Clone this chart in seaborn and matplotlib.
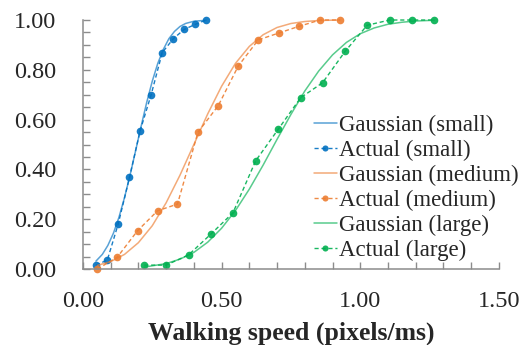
import numpy as np
import pandas as pd
import seaborn as sns
import matplotlib.pyplot as plt
from matplotlib.ticker import MultipleLocator, FormatStrFormatter

# measured points (walking speed vs cumulative share)
small_x = [0.047, 0.088, 0.127, 0.168, 0.206, 0.246, 0.286, 0.326, 0.365, 0.404, 0.444]
small_actual = [0.016, 0.036, 0.18, 0.368, 0.554, 0.70, 0.869, 0.925, 0.962, 0.982, 1.0]
medium_x = [0.052, 0.124, 0.197, 0.269, 0.341, 0.415, 0.488, 0.56, 0.632, 0.707, 0.78, 0.855, 0.927]
medium_actual = [0.0, 0.048, 0.154, 0.234, 0.261, 0.55, 0.656, 0.815, 0.92, 0.948, 0.975, 1.0, 1.0]
large_x = [0.221, 0.30, 0.381, 0.461, 0.541, 0.623, 0.704, 0.785, 0.864, 0.946, 1.025, 1.106, 1.188, 1.267]
large_actual = [0.016, 0.016, 0.057, 0.14, 0.226, 0.435, 0.561, 0.688, 0.748, 0.875, 0.979, 1.0, 1.0, 1.0]

# gaussian fit curves
small_gx = [0.047, 0.07, 0.09, 0.11, 0.13, 0.15, 0.17, 0.19, 0.21, 0.23, 0.25, 0.27, 0.29,
            0.31, 0.33, 0.35, 0.37, 0.40, 0.444]
small_gauss = [0.032, 0.059, 0.095, 0.144, 0.208, 0.287, 0.377, 0.475, 0.574, 0.669, 0.754,
               0.826, 0.882, 0.925, 0.954, 0.974, 0.986, 0.995, 0.999]
medium_gx = [0.052, 0.10, 0.15, 0.20, 0.25, 0.30, 0.35, 0.40, 0.45, 0.50, 0.55, 0.60, 0.65,
             0.70, 0.75, 0.80, 0.85, 0.927]
medium_gauss = [0.015, 0.030, 0.059, 0.106, 0.174, 0.266, 0.377, 0.50, 0.623, 0.734, 0.826,
                0.894, 0.941, 0.970, 0.986, 0.994, 0.998, 1.0]
large_gx = [0.221, 0.30, 0.35, 0.40, 0.45, 0.50, 0.55, 0.60, 0.65, 0.70, 0.75, 0.80, 0.85,
            0.90, 0.95, 1.00, 1.05, 1.10, 1.15, 1.20, 1.267]
large_gauss = [0.008, 0.022, 0.040, 0.067, 0.108, 0.164, 0.235, 0.321, 0.418, 0.521, 0.621,
               0.715, 0.795, 0.860, 0.910, 0.945, 0.968, 0.983, 0.991, 0.996, 0.999]

sizes = ["small", "medium", "large"]
colors = {"small": "#0070C0", "medium": "#ED7D31", "large": "#00B050"}
actual = {"small": (small_x, small_actual), "medium": (medium_x, medium_actual),
          "large": (large_x, large_actual)}
gauss = {"small": (small_gx, small_gauss), "medium": (medium_gx, medium_gauss),
         "large": (large_gx, large_gauss)}

sns.set_style("ticks")
plt.rcParams["font.family"] = ["Liberation Serif", "DejaVu Serif"]

fig, ax = plt.subplots(figsize=(5.28, 3.45), dpi=100)
fig.subplots_adjust(left=0.157, right=0.945, top=0.942, bottom=0.22)

for s in sizes:
    gx, gy = gauss[s]
    sns.lineplot(x=gx, y=gy, ax=ax, color=colors[s], alpha=0.65, lw=1.1,
                 sort=False, estimator=None, label="Gaussian (%s)" % s, clip_on=False)
    axx, ay = actual[s]
    sns.lineplot(x=axx, y=ay, ax=ax, color=colors[s], lw=1.0, ls=(0, (3, 2)),
                 marker="o", markersize=5.5, markeredgewidth=0, alpha=0.9,
                 sort=False, estimator=None, label="Actual (%s)" % s, clip_on=False)

ax.set_xlim(0, 1.5)
ax.set_ylim(0, 1.0)
ax.xaxis.set_major_locator(MultipleLocator(0.5))
ax.xaxis.set_minor_locator(MultipleLocator(0.1))
ax.yaxis.set_major_locator(MultipleLocator(0.2))
ax.yaxis.set_minor_locator(MultipleLocator(0.05))
ax.xaxis.set_major_formatter(FormatStrFormatter("%.2f"))
ax.yaxis.set_major_formatter(FormatStrFormatter("%.2f"))

sns.despine(ax=ax)
for side in ["left", "bottom"]:
    ax.spines[side].set_color("#8C8C8C")
    ax.spines[side].set_linewidth(1.1)
ax.tick_params(which="both", direction="in", length=5, width=1.0, color="#8C8C8C")
ax.tick_params(axis="y", which="major", labelsize=17.5, pad=19)
ax.tick_params(axis="x", which="major", labelsize=17.5, pad=16)

ax.set_xlabel("Walking speed (pixels/ms)", fontsize=18.5, fontweight="bold", labelpad=7)
ax.set_ylabel("")

ax.legend(loc="upper left", bbox_to_anchor=(0.573, 0.70), bbox_transform=fig.transFigure,
          frameon=False, fontsize=16.5, borderpad=0, handlelength=1.0, handletextpad=0.1,
          labelspacing=0.17, markerscale=0.8)

plt.savefig("out.png", dpi=100)
